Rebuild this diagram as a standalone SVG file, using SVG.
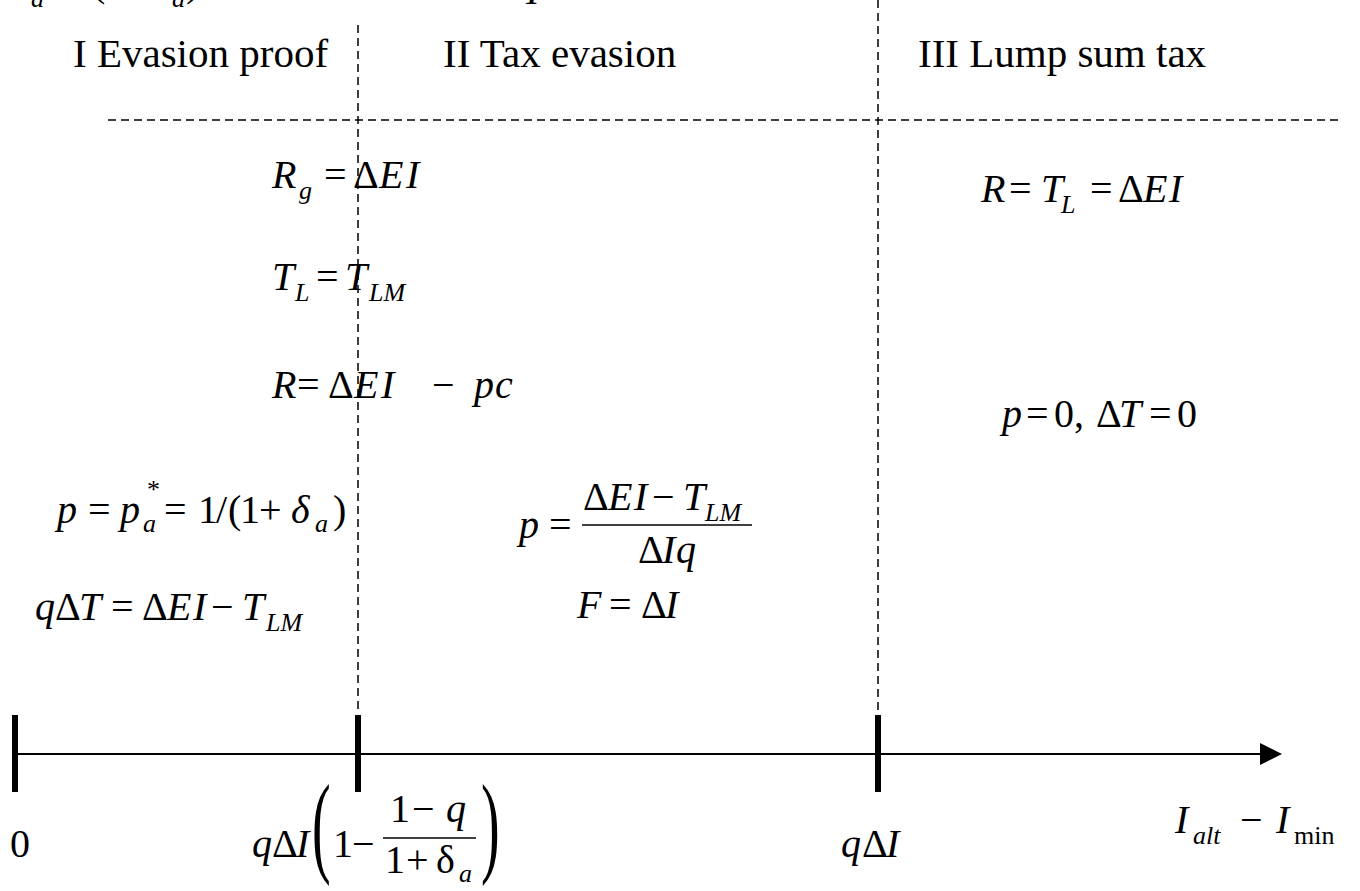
<svg xmlns="http://www.w3.org/2000/svg" width="1360" height="891" viewBox="0 0 1360 891">
<defs>
<style>
text{font-family:"Liberation Serif","Times New Roman",serif;fill:#000}
.h{font-size:41px}
.m{font-size:40px}
.i{font-style:italic}
.s{font-size:26px}
.dash{stroke:#000;stroke-width:1.5;stroke-dasharray:8 5;fill:none}
.axis{stroke:#000;stroke-width:2;fill:none}
.tick{stroke:#000;stroke-width:6}
.bar{stroke:#000;stroke-width:1.5}
.big{font-size:112px}
</style>
<marker id="arr" markerUnits="userSpaceOnUse" markerWidth="22" markerHeight="22" refX="0" refY="11" orient="auto">
<path d="M0,0 L22,11 L0,22 Z" fill="#000"/>
</marker>
</defs>
<rect width="1360" height="891" fill="#fff"/>

<g id="top-fragment" class="m">
<text class="i s" x="31" y="7">a</text>
<text x="92" y="-4">(</text>
<text class="i s" x="172" y="7">a</text>
<text x="186" y="-4">)</text>
<text class="i" x="526" y="4">I</text>
</g>

<g id="connectors">
<line class="dash" x1="358" y1="25" x2="358" y2="714"/>
<line class="dash" x1="878" y1="0" x2="878" y2="714"/>
<line class="dash" x1="108" y1="120" x2="1342" y2="120"/>
<line class="axis" x1="15" y1="754" x2="1260" y2="754" marker-end="url(#arr)"/>
<line class="tick" x1="15" y1="715" x2="15" y2="792"/>
<line class="tick" x1="358" y1="715" x2="358" y2="792"/>
<line class="tick" x1="878" y1="715" x2="878" y2="792"/>
</g>

<g id="header-I"><text class="h" x="73" y="67">I Evasion proof</text></g>
<g id="header-II"><text class="h" x="443" y="67">II Tax evasion</text></g>
<g id="header-III"><text class="h" x="918" y="67">III Lump sum tax</text></g>

<g id="eq-Rg" class="m">
<text class="i" x="272" y="188">R</text>
<text class="i s" x="299" y="199">g</text>
<text x="324" y="188">=</text>
<text x="353" y="188">Δ</text>
<text class="i" x="379" y="188">E</text>
<text class="i" x="406" y="188">I</text>
</g>

<g id="eq-TL" class="m">
<text class="i" x="272" y="290">T</text>
<text class="i s" x="295" y="301">L</text>
<text x="316" y="290">=</text>
<text class="i" x="345" y="290">T</text>
<text class="i s" x="369" y="301">LM</text>
</g>

<g id="eq-R" class="m">
<text class="i" x="272" y="398">R</text>
<text x="297" y="398">=</text>
<text x="328" y="398">Δ</text>
<text class="i" x="354" y="398">E</text>
<text class="i" x="381" y="398">I</text>
<text x="432" y="398">−</text>
<text class="i" x="474" y="398">p</text>
<text class="i" x="495" y="398">c</text>
</g>

<g id="eq-p-star" class="m">
<text class="i" x="57" y="523">p</text>
<text x="88" y="523">=</text>
<text class="i" x="120" y="523">p</text>
<text class="s" x="147" y="498">*</text>
<text class="i s" x="143" y="532">a</text>
<text x="164" y="523">=</text>
<text x="198" y="523">1</text>
<text x="216" y="523">/</text>
<text x="228" y="523">(</text>
<text x="240" y="523">1</text>
<text x="259" y="523">+</text>
<text class="i" x="291" y="523">δ</text>
<text class="i s" x="315" y="532">a</text>
<text x="333" y="523">)</text>
</g>

<g id="eq-qdT" class="m">
<text class="i" x="35" y="620">q</text>
<text x="55" y="620">Δ</text>
<text class="i" x="79" y="620">T</text>
<text x="111" y="620">=</text>
<text x="142" y="620">Δ</text>
<text class="i" x="167" y="620">E</text>
<text class="i" x="193" y="620">I</text>
<text x="211" y="620">−</text>
<text class="i" x="242" y="620">T</text>
<text class="i s" x="266" y="631">LM</text>
</g>

<g id="eq-p-frac" class="m">
<text class="i" x="519" y="538">p</text>
<text x="549" y="538">=</text>
<line class="bar" x1="582" y1="525" x2="752" y2="525"/>
<text x="583" y="510">Δ</text>
<text class="i" x="608" y="510">E</text>
<text class="i" x="634" y="510">I</text>
<text x="652" y="510">−</text>
<text class="i" x="683" y="510">T</text>
<text class="i s" x="705" y="521">LM</text>
<text x="638" y="563">Δ</text>
<text class="i" x="662" y="563">I</text>
<text class="i" x="676" y="563">q</text>
</g>

<g id="eq-F" class="m">
<text class="i" x="577" y="618">F</text>
<text x="609" y="618">=</text>
<text x="641" y="618">Δ</text>
<text class="i" x="665" y="618">I</text>
</g>

<g id="eq-R-III" class="m">
<text class="i" x="981" y="202">R</text>
<text x="1009" y="202">=</text>
<text class="i" x="1041" y="202">T</text>
<text class="i s" x="1061" y="213">L</text>
<text x="1090" y="202">=</text>
<text x="1118" y="202">Δ</text>
<text class="i" x="1143" y="202">E</text>
<text class="i" x="1169" y="202">I</text>
</g>

<g id="eq-p0" class="m">
<text class="i" x="1002" y="427">p</text>
<text x="1026" y="427">=</text>
<text x="1054" y="427">0,</text>
<text x="1096" y="427">Δ</text>
<text class="i" x="1119" y="427">T</text>
<text x="1149" y="427">=</text>
<text x="1177" y="427">0</text>
</g>

<g id="label-0" class="m"><text x="10" y="857">0</text></g>

<g id="label-threshold" class="m">
<text class="i" x="252" y="857">q</text>
<text x="272" y="857">Δ</text>
<text class="i" x="296" y="857">I</text>
<text class="big" transform="translate(312 862) scale(0.5 1)">(</text>
<text x="333" y="857">1</text>
<text x="352" y="857">−</text>
<text x="390" y="822">1</text>
<text x="412" y="822">−</text>
<text class="i" x="446" y="822">q</text>
<line class="bar" x1="383" y1="838" x2="476" y2="838"/>
<text x="385" y="873">1</text>
<text x="406" y="873">+</text>
<text x="436" y="873">δ</text>
<text class="i s" x="459" y="882">a</text>
<text class="big" transform="translate(481 862) scale(0.5 1)">)</text>
</g>

<g id="label-qdI" class="m">
<text class="i" x="841" y="857">q</text>
<text x="862" y="857">Δ</text>
<text class="i" x="886" y="857">I</text>
</g>

<g id="axis-label" class="m">
<text class="i" x="1175" y="833">I</text>
<text class="i s" x="1193" y="844">alt</text>
<text x="1240" y="833">−</text>
<text class="i" x="1276" y="833">I</text>
<text class="s" x="1294" y="844">min</text>
</g>
</svg>
